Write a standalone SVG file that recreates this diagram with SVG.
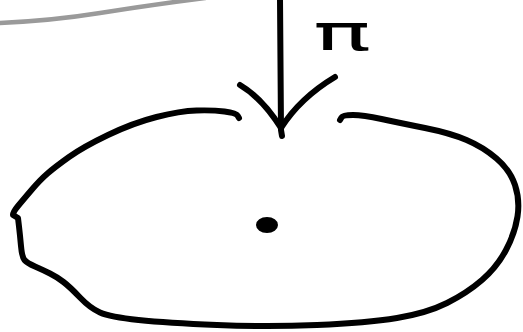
<svg xmlns="http://www.w3.org/2000/svg" width="523" height="332" viewBox="0 0 523 332">
  <style>
    .ink { fill: none; stroke: #000; stroke-width: 6; stroke-linecap: round; stroke-linejoin: round; }
    .gray { fill: none; stroke: #9a9a9a; stroke-width: 4.5; stroke-linecap: round; }
    .lbl { font-family: "DejaVu Sans", "Liberation Sans", sans-serif; font-size: 50px; fill: #000; }
  </style>
  <rect width="523" height="332" fill="#fff"/>
  <g id="disk">
    <path class="ink" d="M239,118 L237.5,115.5 Q236,113 224.5,111.5 Q213,110 196.5,110.5 Q180,111 156.5,117 Q133,123 108,135 Q83,147 69,157 Q55,167 47.5,173.5 Q40,180 31.5,190 Q23,200 18,206 Q13,212 13,215 L18,218 L19,226.5 Q20,235 21,246 Q22,257 24.5,260 Q27,263 35,266.5 Q43,270 50,273.5 Q57,277 63.5,282 Q70,287 80,297.5 Q90,308 100,312.5 Q110,317 138.5,320 Q167,323 217,325 Q267,327 317,325 Q367,323 397,318 Q427,313 447,303 Q467,293 482,280 Q497,267 506,250 Q515,233 517.5,216.5 Q520,200 515,185 Q510,170 496.5,158.5 Q483,147 466.5,140 Q450,133 425,128 Q400,123 381.5,119 Q363,115 353,115 Q343,115 341.5,117.5 L340,120"/>
    <ellipse id="center-dot" cx="267" cy="225" rx="11" ry="8" fill="#000"/>
  </g>
  <g id="label-pi">
    <text class="lbl" x="313" y="50" textLength="58" lengthAdjust="spacingAndGlyphs">π</text>
  </g>
  <g id="connectors">
    <path class="gray" d="M-2,23 Q50,21 100,13 Q150,5 205,-2"/>
    <path class="ink" d="M280,-2 L281,130 L282,136"/>
    <path class="ink" d="M240,85 Q262,98 281,128"/>
    <path class="ink" d="M335,77 Q300,98 281,128"/>
  </g>
</svg>
